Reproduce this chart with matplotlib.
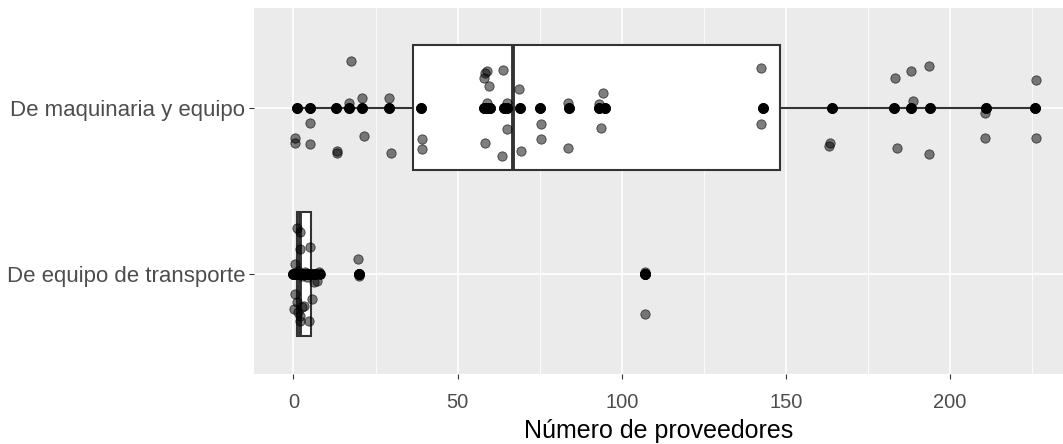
import matplotlib.pyplot as plt

plt.rcParams['font.family'] = ['Liberation Sans', 'DejaVu Sans']

categories = ['De maquinaria y equipo', 'De equipo de transporte']

# maquinaria: valores observados (puntos negros sobre la linea)
maq_values = [1, 1, 5, 5, 13, 13, 17, 17, 21, 21, 29, 29, 39, 39,
              58, 58, 59, 59, 60, 60, 64, 64, 65, 65, 69, 69, 75, 75,
              84, 84, 93, 93, 95, 95, 143, 143, 164, 164, 183, 183,
              188, 188, 194, 194, 211, 211, 226, 226]
# copias con jitter (puntos grises)
maq_jit_x = [0.6, 0.6, 5.0, 5.0, 13.3, 13.3, 17.5, 16.8, 20.9, 21.4, 29.0, 29.7,
             39.3, 39.3, 58.4, 58.9, 58.1, 59.7, 58.4, 58.9, 63.9, 65.0, 63.4, 65.0,
             68.8, 69.3, 75.4, 75.4, 83.5, 83.5, 94.3, 93.1, 93.8, 94.5,
             142.5, 142.5, 163.5, 163.0, 183.2, 183.8, 188.2, 188.8, 193.7, 193.7,
             210.5, 210.5, 226.3, 226.3]
maq_jit_y = [0.18, 0.21, 0.09, 0.22, 0.26, 0.27, -0.28, -0.03, -0.06, 0.17, -0.06, 0.27,
             0.19, 0.25, -0.21, -0.22, -0.18, -0.13, 0.21, -0.03, -0.23, 0.13, 0.29, -0.03,
             -0.11, 0.26, 0.10, 0.19, -0.03, 0.24, -0.09, -0.02, 0.12, 0.0,
             -0.24, 0.10, 0.21, 0.23, -0.18, 0.24, -0.22, -0.04, -0.25, 0.28,
             0.03, 0.18, -0.17, 0.18]

tra_values = [0, 0, 1, 1, 1, 1, 1, 1, 2, 2, 2, 2, 2, 2, 2, 3, 3, 4, 4, 5, 5,
              6, 7, 8, 20, 20, 107, 107]
tra_jit_x = [0.3, 0.3, 1.1, 0.6, 0.6, 1.1, 1.3, 1.5, 1.9, 2.1, 2.1, 1.9, 2.5, 2.6,
             3.1, 3.5, 4.2, 4.7, 5.0, 5.7, 6.2, 6.5, 7.2, 7.8, 19.6, 20.0, 107.0, 107.0]
tra_jit_y = [0.21, 0.0, -0.28, -0.06, 0.12, 0.17, 0.23, -0.02, -0.25, -0.15, 0.25, 0.28, 0.01, 0.20,
             0.19, -0.01, 0.02, 0.28, -0.16, 0.15, 0.05, 0.0, 0.04, -0.01, -0.09, 0.01, -0.01, 0.24]

fig = plt.figure(figsize=(10.63, 4.44), dpi=100)
ax = fig.add_axes([0.239, 0.158, 0.761, 0.824])
ax.set_facecolor('#EBEBEB')
for s in ax.spines.values():
    s.set_visible(False)

ax.set_xticks([0, 50, 100, 150, 200])
ax.set_xticks([25, 75, 125, 175, 225], minor=True)
ax.grid(which='major', color='white', linewidth=1.2)
ax.grid(which='minor', axis='x', color='white', linewidth=0.6)
ax.set_axisbelow(True)

line = dict(color='#333333', linewidth=1.5)
ax.boxplot([maq_values, tra_values], positions=[1, 2], orientation='horizontal',
           widths=0.75, patch_artist=True, showcaps=False, whis=1.5,
           boxprops=dict(facecolor='white', edgecolor='#333333', linewidth=1.5),
           whiskerprops=line, medianprops=dict(color='#333333', linewidth=2.8),
           flierprops=dict(marker='o', markerfacecolor='black', markeredgecolor='black',
                           markersize=6.5), zorder=2)

ax.scatter(maq_values, [1] * len(maq_values), s=45, color='black', zorder=3)
ax.scatter(tra_values, [2] * len(tra_values), s=45, color='black', zorder=3)
ax.scatter(maq_jit_x, [1 + d for d in maq_jit_y], s=45, facecolor=(0, 0, 0, 0.5),
           edgecolor=(0, 0, 0, 0.65), linewidth=0.6, zorder=4)
ax.scatter(tra_jit_x, [2 + d for d in tra_jit_y], s=45, facecolor=(0, 0, 0, 0.5),
           edgecolor=(0, 0, 0, 0.65), linewidth=0.6, zorder=4)

ax.set_xlim(-12, 234.4)
ax.set_ylim(2.6, 0.4)
ax.set_yticks([1, 2])
ax.set_yticklabels(categories)
ax.tick_params(axis='both', which='major', length=3.5, width=0.8, color='#333333',
               labelcolor='#4D4D4D')
ax.tick_params(axis='x', labelsize=14.5, pad=10)
ax.tick_params(axis='y', labelsize=16, pad=3)
ax.tick_params(which='minor', length=0)
ax.set_xlabel('Número de proveedores', fontsize=18, color='black', labelpad=5)

plt.savefig('out.png', dpi=100)
